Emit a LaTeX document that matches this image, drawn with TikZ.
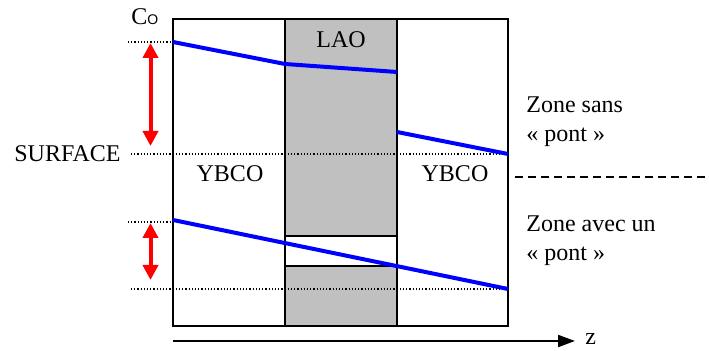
\documentclass[tikz,border=0pt]{standalone}
\usepackage{fontspec}
\setmainfont{Liberation Serif}
\newfontfamily\subfont{Liberation Sans}
\usetikzlibrary{arrows.meta}
\definecolor{laogray}{RGB}{192,192,192}

\begin{document}
\begin{tikzpicture}[x=0.5pt, y=-0.5pt, >=Stealth,
  txt/.style={font=\fontsize{12}{14.5}\selectfont, inner sep=0pt},
  layer/.style={draw, line width=1pt},
  guide/.style={line width=0.6pt, dash pattern=on 0.6pt off 1pt},
  profile/.style={blue, line width=2pt},
  gap/.style={red, line width=2pt, {Triangle[length=7.5pt,width=7.5pt]}-{Triangle[length=7.5pt,width=7.5pt]}}]
  \useasboundingbox (0,0) rectangle (709,351);
  % couches
  \draw[layer, fill=laogray] (285,19) rectangle (397,326);
  \draw[layer, fill=white, line width=0.8pt] (285,236) rectangle (397,266);
  \draw[layer] (173,19) rectangle (285,326);
  \draw[layer] (397,19) rectangle (508,326);
  % niveaux
  \coordinate (s1) at (128,42);   \coordinate (s2) at (173,42);
  \coordinate (s3) at (131,154);  \coordinate (s4) at (508,154);
  \coordinate (s5) at (128,222);  \coordinate (s6) at (173,222);
  \coordinate (s7) at (131,289);  \coordinate (s8) at (508,289);
  \draw[guide] (s1) -- (s2);
  \draw[guide] (s3) -- (s4);
  \draw[guide] (s5) -- (s6);
  \draw[guide] (s7) -- (s8);
  % profils
  \draw[profile] (173,42) -- (285,64) -- (397,72);
  \draw[profile] (397,132) -- (s4);
  \draw[profile] (173,220) -- (s8);
  % fleches
  \coordinate (a1) at (150.5,43);  \coordinate (a2) at (150.5,146);
  \coordinate (a3) at (150.5,223); \coordinate (a4) at (150.5,280);
  \draw[gap] (a1) -- (a2);
  \draw[gap] (a3) -- (a4);
  % axe
  \coordinate (z0) at (173,341);
  \coordinate (z1) at (575,341);
  \draw[line width=1pt, -{Triangle[length=8.5pt,width=6pt]}] (z0) -- (z1);
  \node[txt, anchor=base west] (zlab) at (585,345) {z};
  % separation
  \coordinate (d0) at (515,177);
  \coordinate (d1) at (709,177);
  \draw[line width=1pt, dash pattern=on 4pt off 2.5pt] (d0) -- (d1);
  % textes
  \node[txt, anchor=base west] (co) at (131,25) {C{\subfont\fontsize{7}{8}\selectfont O}};
  \node[txt, anchor=base east] (surf) at (121,162) {SURFACE};
  \node[txt, anchor=base] (ybcoL) at (230,182) {YBCO};
  \node[txt, anchor=base] (ybcoR) at (455,182) {YBCO};
  \node[txt, anchor=base] (lao) at (341,48) {LAO};
  \node[txt, anchor=base west, align=left] (zsans) at (526,142) {Zone sans\\«~pont~»};
  \node[txt, anchor=base west, align=left] (zavec) at (526,261) {Zone avec un\\«~pont~»};
\end{tikzpicture}
\end{document}
